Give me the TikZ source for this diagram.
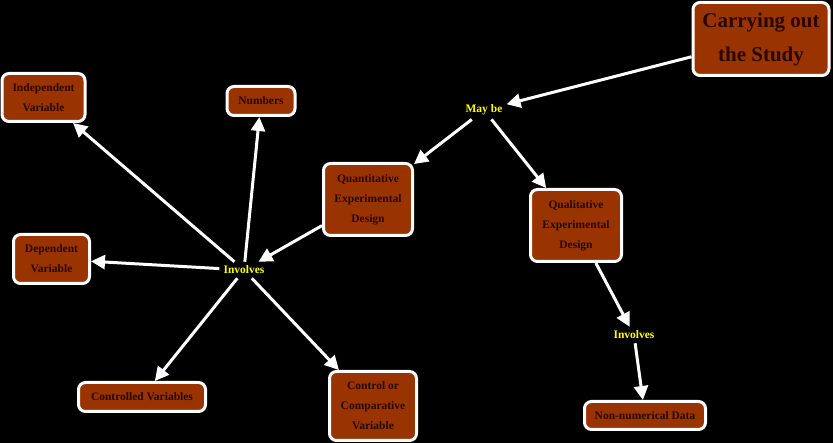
\documentclass[tikz,border=0pt]{standalone}
\usepackage{fontspec}
\setmainfont{Liberation Serif}
\usetikzlibrary{arrows.meta}
\definecolor{boxc}{RGB}{153,51,0}
\definecolor{txtc}{RGB}{40,8,0}
\definecolor{yel}{RGB}{255,255,0}
\tikzset{
  box/.style={draw=white, line width=3pt, fill=boxc, rounded corners=7pt, text=txtc,
    font=\bfseries\fontsize{11.5}{20}\selectfont, align=center, inner sep=0pt},
  lab/.style={text=yel, font=\bfseries\fontsize{11.5}{14}\selectfont, inner sep=4pt},
  arr/.style={draw=white, line width=3pt, -{Triangle[length=14pt,width=14pt]}}
}
\begin{document}
\begin{tikzpicture}[x=1pt,y=-1pt]
\useasboundingbox (0,0) rectangle (833,443);
\fill[black] (0,0) rectangle (833,443);
\node[box, minimum width=136pt, minimum height=73pt, font=\bfseries\fontsize{21}{34}\selectfont] (carry) at (761,39) {Carrying out\\the Study};
\node[box, minimum width=83pt, minimum height=48pt] (indep) at (43.5,97.5) {Independent\\Variable};
\node[box, minimum width=68pt, minimum height=29pt] (numb) at (261,101) {Numbers};
\node[box, minimum width=89pt, minimum height=72pt] (quant) at (368,199.5) {Quantitative\\Experimental\\Design};
\node[box, minimum width=91pt, minimum height=72pt] (qual) at (576,225.5) {Qualitative\\Experimental\\Design};
\node[box, minimum width=76pt, minimum height=49pt] (dep) at (51.5,259) {Dependent\\Variable};
\node[box, minimum width=127pt, minimum height=29pt] (ctrl) at (142,397) {Controlled Variables};
\node[box, minimum width=87pt, minimum height=69pt] (comp) at (373,406) {Control or\\Comparative\\Variable};
\node[box, minimum width=121pt, minimum height=28pt] (nonnum) at (645,415.5) {Non-numerical Data};
\node[lab] (maybe) at (484,110) {May be};
\node[lab] (inv) at (244,270) {Involves};
\node[lab] (inv2) at (634,335) {Involves};
\draw[arr] (carry) -- (maybe);
\draw[arr] (maybe) -- (quant);
\draw[arr] (maybe) -- (qual);
\draw[arr] (quant) -- (inv);
\draw[arr] (inv) -- (indep);
\draw[arr] (inv) -- (numb);
\draw[arr] (inv) -- (dep);
\draw[arr] (inv) -- (ctrl);
\draw[arr] (inv) -- (comp);
\draw[arr] (qual) -- (inv2);
\draw[arr] (inv2) -- (nonnum);
\end{tikzpicture}
\end{document}
